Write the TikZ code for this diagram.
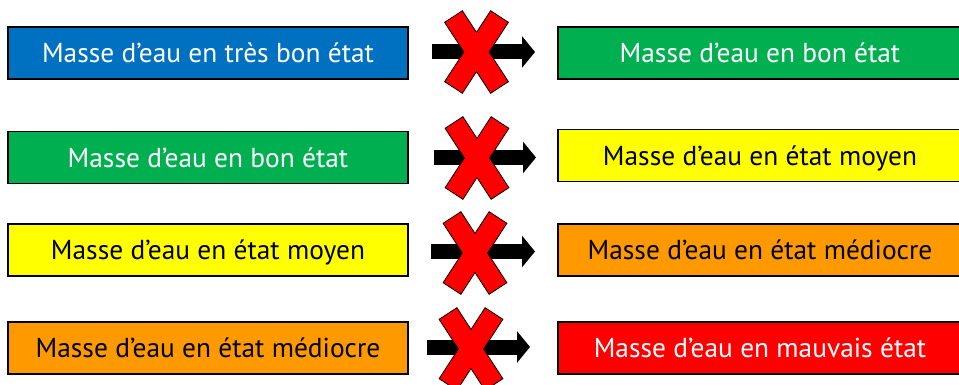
\documentclass[tikz,border=0pt]{standalone}
\usepackage{fontspec}
\setmainfont{PT Sans}
\usetikzlibrary{arrows.meta}

\definecolor{tresbon}{HTML}{0070C0}
\definecolor{bon}{HTML}{00B050}
\definecolor{moyen}{HTML}{FFFF00}
\definecolor{mediocre}{HTML}{FF9900}
\definecolor{mauvais}{HTML}{FF0000}

\tikzset{
  etat/.style={draw=black, line width=1.5pt, minimum height=52pt, inner sep=0pt,
    text height=19.5pt, text depth=0pt, font=\fontsize{27.4}{32}\selectfont},
  gauche/.style={etat, minimum width=400pt},
  droite/.style={etat, minimum width=404pt},
  fleche/.style={line width=15pt, -{Triangle[length=13pt,width=31pt]}},
}

% (x, y) of the centre
\newcommand{\croix}[2]{
    \draw[fill=red, line width=0.8pt, shift={(#1,#2)}]
      (-14.1,-41.3) -- (0,-19.6) -- (14.1,-41.3) -- (31.9,-29.7) -- (12.6,0)
      -- (31.9,29.7) -- (14.1,41.3) -- (0,19.6) -- (-14.1,41.3)
      -- (-31.9,29.7) -- (-12.6,0) -- (-31.9,-29.7) -- cycle;
}
% (name, x_start, x_end, y)
\newcommand{\passage}[4]{
    \coordinate (#1a) at (#2,#4);
    \coordinate (#1b) at (#3,#4);
    \draw[fleche] (#1a) -- (#1b);
}

\begin{document}
\begin{tikzpicture}[x=1pt, y=-1pt]
  \useasboundingbox (0,0) rectangle (959,385);

  \node[gauche, fill=tresbon, text=white] (g1) at (208,53) {Masse d’eau en très bon état};
  \node[droite, fill=bon, text=white] (d1) at (760,53) {Masse d’eau en bon état};
  \passage{p1}{432}{535}{52}
  \croix{476.5}{52}

  \node[gauche, fill=bon, text=white] (g2) at (208,157.5) {Masse d’eau en bon état};
  \node[droite, fill=moyen] (d2) at (760,155.5) {Masse d’eau en état moyen};
  \passage{p2}{434}{536}{157.5}
  \croix{477}{158}

  \node[gauche, fill=moyen] (g3) at (208,250) {Masse d’eau en état moyen};
  \node[droite, fill=mediocre] (d3) at (760,250) {Masse d’eau en état médiocre};
  \passage{p3}{431}{535}{251.5}
  \croix{475}{253}

  \node[gauche, fill=mediocre] (g4) at (208,348) {Masse d’eau en état médiocre};
  \node[droite, fill=mauvais, text=white] (d4) at (760,348) {Masse d’eau en mauvais état};
  \passage{p4}{427}{530}{347}
  \croix{471}{349}

\end{tikzpicture}
\end{document}
